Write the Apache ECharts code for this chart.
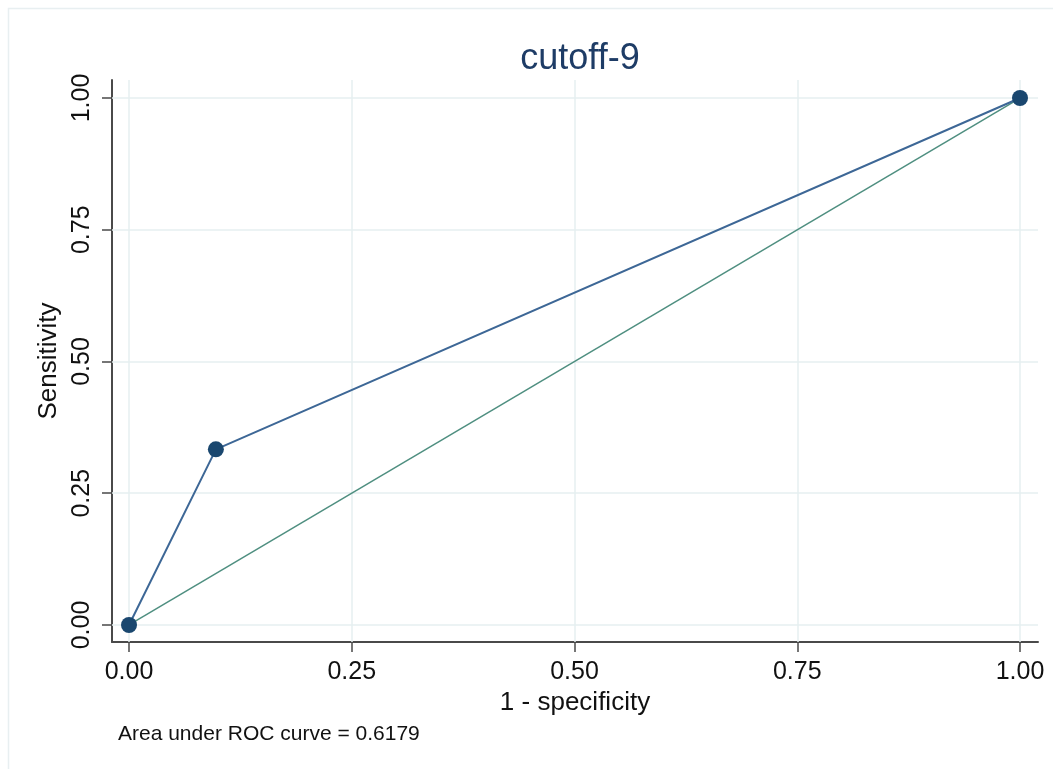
<!DOCTYPE html>
<html>
<head>
<meta charset="utf-8">
<title>cutoff-9</title>
<script src="https://cdn.jsdelivr.net/npm/echarts@6.0.0/dist/echarts.min.js"></script>
<style>
  html, body { margin: 0; padding: 0; background: #fff; }
  #chart { width: 1053px; height: 769px; }
</style>
</head>
<body>
<div id="chart"></div>
<script>
// ROC points (1 - specificity, sensitivity)
const rocX = [0, 0.0975, 1];
const rocY = [0, 0.3333, 1];
// reference diagonal
const refX = [0, 1];
const refY = [0, 1];
// tick positions
const xTicks = [0, 0.25, 0.5, 0.75, 1];
const yTicks = [0, 0.25, 0.5, 0.75, 1];
const aucText = "Area under ROC curve = 0.6179";

const font = "Liberation Sans, Arial, Helvetica, sans-serif";
const gridColor = "#e6eff1";
const axisColor = "#4a4a4a";

const chart = echarts.init(document.getElementById("chart"));

// grid lines through markLine (axis min is not a tick multiple)
const gridLines = [];
xTicks.forEach((v) => gridLines.push({ xAxis: v }));
yTicks.forEach((v) => gridLines.push({ yAxis: v }));

const option = {
  animation: false,
  backgroundColor: "#fff",
  title: {
    text: "cutoff-9",
    top: 36,
    left: 575,
    textAlign: "center",
    textStyle: { fontFamily: font, fontSize: 36, fontWeight: "normal", color: "#1e3c66" },
  },
  grid: { left: 112, right: 15, top: 80, bottom: 127 },
  xAxis: {
    type: "value",
    min: -0.0191,
    max: 1.0202,
    name: "1 - specificity",
    nameLocation: "middle",
    nameGap: 46,
    nameTextStyle: { fontFamily: font, fontSize: 26, color: "#111" },
    axisLine: { show: true, onZero: false, lineStyle: { color: axisColor, width: 2 } },
    axisTick: { show: true, customValues: xTicks, length: 10, lineStyle: { color: axisColor, width: 1.5 } },
    axisLabel: {
      customValues: xTicks,
      margin: 18,
      fontFamily: font,
      fontSize: 25,
      color: "#111",
      formatter: (v) => v.toFixed(2),
    },
    splitLine: { show: false },
  },
  yAxis: {
    type: "value",
    min: -0.0323,
    max: 1.0342,
    name: "Sensitivity",
    nameLocation: "middle",
    nameGap: 45,
    nameTextStyle: { fontFamily: font, fontSize: 26, color: "#111" },
    axisLine: { show: true, onZero: false, lineStyle: { color: axisColor, width: 2 } },
    axisTick: { show: true, customValues: yTicks, length: 10, lineStyle: { color: axisColor, width: 1.5 } },
    axisLabel: {
      customValues: yTicks,
      rotate: 90,
      margin: 17,
      fontFamily: font,
      fontSize: 25,
      color: "#111",
      formatter: (v) => v.toFixed(2),
    },
    splitLine: { show: false },
  },
  series: [
    {
      type: "line",
      data: [],
      z: 1,
      markLine: {
        silent: true,
        z: 1,
        symbol: "none",
        label: { show: false },
        lineStyle: { color: gridColor, type: "solid", width: 1.5 },
        data: gridLines,
      },
    },
    {
      type: "line",
      name: "reference",
      data: refX.map((x, i) => [x, refY[i]]),
      showSymbol: false,
      z: 6,
      lineStyle: { color: "#4f8f80", width: 1.5 },
    },
    {
      type: "line",
      name: "ROC",
      data: rocX.map((x, i) => [x, rocY[i]]),
      symbol: "circle",
      symbolSize: 16,
      showSymbol: true,
      z: 7,
      itemStyle: { color: "#1a476f" },
      lineStyle: { color: "#3d6796", width: 2 },
    },
  ],
  graphic: [
    {
      type: "rect",
      shape: { x: 8.5, y: 8.5, width: 1200, height: 900 },
      style: { fill: "none", stroke: "#e8eff1", lineWidth: 1.5 },
      silent: true,
      z: -1,
    },
    {
      type: "text",
      left: 118,
      top: 724,
      style: { text: aucText, fontFamily: font, fontSize: 21, fill: "#111" },
    },
  ],
};

chart.setOption(option);
window.addEventListener("resize", () => {
  chart.resize();
});
</script>
</body>
</html>
